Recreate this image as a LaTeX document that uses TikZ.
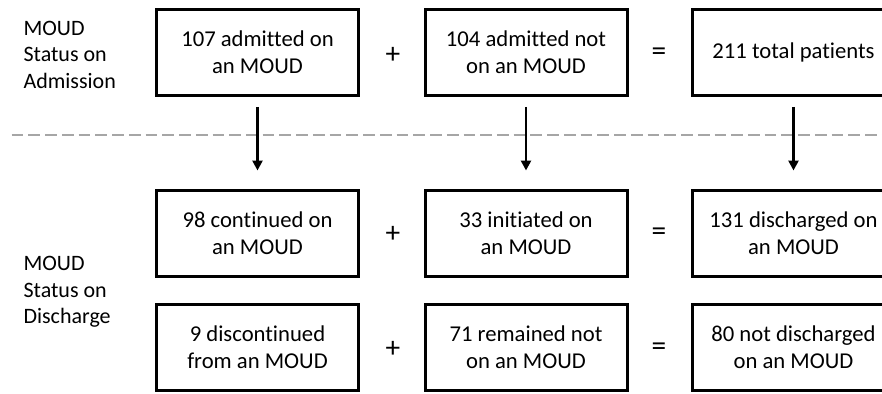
\documentclass[tikz,border=0pt]{standalone}
\usepackage{fontspec}
\setmainfont{Carlito}[Ligatures={NoCommon}]
\usetikzlibrary{arrows.meta}
\definecolor{sepgray}{HTML}{A6A6A6}
\begin{document}
\begin{tikzpicture}[x=0.75pt,y=-0.75pt,
  txt/.style={font=\fontsize{16.5}{20}\selectfont},
  box/.style={font=\fontsize{17}{20}\selectfont,draw,line width=2.25pt,minimum width=151.5pt,minimum height=64.5pt,align=center,inner sep=0pt},
  lbl/.style={txt,anchor=west,align=left,inner sep=0pt},
  op/.style={font=\fontsize{22}{24}\selectfont,inner sep=0pt},
  flow/.style={-{Triangle[length=7.5pt,width=7.5pt]},line width=2pt,shorten <=7.5pt,shorten >=13.5pt},
  sep/.style={draw=sepgray,line width=1.7pt,dash pattern=on 8.8pt off 3.75pt}]
\useasboundingbox (0,0) rectangle (882,393);
\clip (0,0) rectangle (882,393);
% labels
\node[lbl] (ladm) at (23.3,54.8) {MOUD\\Status on\\Admission};
\node[lbl] (ldis) at (23.3,292) {MOUD\\Status on\\Discharge};
% top row
\node[box] (a1) at (257.5,52.4) {107 admitted on\\an MOUD};
\node[box] (a2) at (526,52.4) {104 admitted not\\on an MOUD};
\node[box] (a3) at (793.5,52.4) {211 total patients};
\node[op] (pa) at (393,55.5) {+};
\node[op] (ea) at (659,54) {=};
% middle row
\node[box] (b1) at (257.5,233) {98 continued on\\an MOUD};
\node[box] (b2) at (526,233) {33 initiated on\\an MOUD};
\node[box] (b3) at (793.5,233) {131 discharged on\\an MOUD};
\node[op] (pb) at (393,234) {+};
\node[op] (eb) at (659,234) {=};
% bottom row
\node[box] (c1) at (257.5,347.5) {9 discontinued\\from an MOUD};
\node[box] (c2) at (526,347.5) {71 remained not\\on an MOUD};
\node[box] (c3) at (793.5,347.5) {80 not discharged\\on an MOUD};
\node[op] (pc) at (393,349) {+};
\node[op] (ec) at (659,349) {=};
% separator
\coordinate (s1) at (11.7,135);
\coordinate (s2) at (882,135);
\draw[sep] (s1) -- (s2);
% arrows
\draw[flow] (a1.south) -- (b1.north);
\draw[flow] (a2.south) -- (b2.north);
\draw[flow] (a3.south) -- (b3.north);
\end{tikzpicture}
\end{document}
